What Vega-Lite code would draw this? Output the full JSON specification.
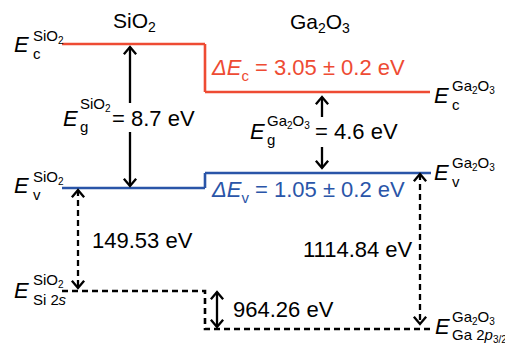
{
  "$schema": "https://vega.github.io/schema/vega-lite/v6.json",
  "width": 505,
  "height": 347,
  "padding": 0,
  "autosize": {"type": "none"},
  "background": "white",
  "config": {"view": {"stroke": null}, "text": {"font": "Liberation Sans", "align": "left", "baseline": "alphabetic"}},
  "datasets": {
    "bands": [
      {"band": "cb", "dash": "solid", "o": 1, "x": 62, "y": 44},
      {"band": "cb", "dash": "solid", "o": 2, "x": 205, "y": 44},
      {"band": "cb", "dash": "solid", "o": 3, "x": 205, "y": 92},
      {"band": "cb", "dash": "solid", "o": 4, "x": 430, "y": 92},
      {"band": "vb", "dash": "solid", "o": 1, "x": 62, "y": 188},
      {"band": "vb", "dash": "solid", "o": 2, "x": 205, "y": 188},
      {"band": "vb", "dash": "solid", "o": 3, "x": 205, "y": 173},
      {"band": "vb", "dash": "solid", "o": 4, "x": 431, "y": 173},
      {"band": "k", "dash": "dashed", "o": 1, "x": 62, "y": 291},
      {"band": "k", "dash": "dashed", "o": 2, "x": 205, "y": 291},
      {"band": "k", "dash": "dashed", "o": 3, "x": 205, "y": 329},
      {"band": "k", "dash": "dashed", "o": 4, "x": 433, "y": 329}
    ],
    "shafts": [
      {"x": 130, "y": 47, "y2": 103, "dash": "solid"},
      {"x": 130, "y": 132, "y2": 186, "dash": "solid"},
      {"x": 322, "y": 97, "y2": 117, "dash": "solid"},
      {"x": 322, "y": 147, "y2": 168, "dash": "solid"},
      {"x": 78, "y": 190, "y2": 288, "dash": "dashed"},
      {"x": 420, "y": 174, "y2": 324, "dash": "dashed"},
      {"x": 217, "y": 292, "y2": 327, "dash": "solid"}
    ],
    "heads": [
      {"x": 130, "y": 47, "dir": "up"}, {"x": 130, "y": 186, "dir": "down"},
      {"x": 322, "y": 97, "dir": "up"}, {"x": 322, "y": 168, "dir": "down"},
      {"x": 78, "y": 190, "dir": "up"}, {"x": 78, "y": 288, "dir": "down"},
      {"x": 420, "y": 174, "dir": "up"}, {"x": 420, "y": 324, "dir": "down"},
      {"x": 217, "y": 292, "dir": "up"}, {"x": 217, "y": 327, "dir": "down"}
    ],
    "labels": [
      {"t": "SiO", "x": 113, "y": 28, "role": "title", "band": "k", "it": false},
      {"t": "2", "x": 148, "y": 32, "role": "tsub", "band": "k", "it": false},
      {"t": "Ga", "x": 290, "y": 29, "role": "title", "band": "k", "it": false},
      {"t": "2", "x": 318, "y": 33, "role": "tsub", "band": "k", "it": false},
      {"t": "O", "x": 325.8, "y": 29, "role": "title", "band": "k", "it": false},
      {"t": "3", "x": 342, "y": 33, "role": "tsub", "band": "k", "it": false},

      {"t": "E", "x": 14, "y": 52, "role": "main", "band": "k", "it": true},
      {"t": "SiO", "x": 33, "y": 41, "role": "sup", "band": "k", "it": false},
      {"t": "2", "x": 58, "y": 44, "role": "supsub", "band": "k", "it": false},
      {"t": "c", "x": 33, "y": 59, "role": "sub", "band": "k", "it": false},

      {"t": "E", "x": 14, "y": 193, "role": "main", "band": "k", "it": true},
      {"t": "SiO", "x": 33, "y": 182, "role": "sup", "band": "k", "it": false},
      {"t": "2", "x": 58, "y": 185, "role": "supsub", "band": "k", "it": false},
      {"t": "v", "x": 33, "y": 200, "role": "sub", "band": "k", "it": false},

      {"t": "E", "x": 14, "y": 298, "role": "main", "band": "k", "it": true},
      {"t": "SiO", "x": 33, "y": 285, "role": "sup", "band": "k", "it": false},
      {"t": "2", "x": 58, "y": 288, "role": "supsub", "band": "k", "it": false},
      {"t": "Si 2", "x": 33, "y": 305, "role": "sub", "band": "k", "it": false},
      {"t": "s", "x": 58.5, "y": 305, "role": "sub", "band": "k", "it": true},

      {"t": "E", "x": 63, "y": 126, "role": "main", "band": "k", "it": true},
      {"t": "SiO", "x": 80, "y": 109, "role": "sup", "band": "k", "it": false},
      {"t": "2", "x": 105, "y": 112, "role": "supsub", "band": "k", "it": false},
      {"t": "g", "x": 80, "y": 132, "role": "sub", "band": "k", "it": false},
      {"t": "= 8.7 eV", "x": 112, "y": 126, "role": "main", "band": "k", "it": false},

      {"t": "E", "x": 250, "y": 139, "role": "main", "band": "k", "it": true},
      {"t": "Ga", "x": 267, "y": 126, "role": "sup", "band": "k", "it": false},
      {"t": "2", "x": 287, "y": 129, "role": "supsub", "band": "k", "it": false},
      {"t": "O", "x": 292.6, "y": 126, "role": "sup", "band": "k", "it": false},
      {"t": "3", "x": 304.3, "y": 129, "role": "supsub", "band": "k", "it": false},
      {"t": "g", "x": 267, "y": 145, "role": "sub", "band": "k", "it": false},
      {"t": "= 4.6 eV", "x": 315, "y": 139, "role": "main", "band": "k", "it": false},

      {"t": "E", "x": 434, "y": 103, "role": "main", "band": "k", "it": true},
      {"t": "Ga", "x": 452, "y": 91, "role": "sup", "band": "k", "it": false},
      {"t": "2", "x": 472, "y": 94, "role": "supsub", "band": "k", "it": false},
      {"t": "O", "x": 477.6, "y": 91, "role": "sup", "band": "k", "it": false},
      {"t": "3", "x": 489.3, "y": 94, "role": "supsub", "band": "k", "it": false},
      {"t": "c", "x": 452, "y": 110, "role": "sub", "band": "k", "it": false},

      {"t": "E", "x": 434, "y": 180, "role": "main", "band": "k", "it": true},
      {"t": "Ga", "x": 452, "y": 168, "role": "sup", "band": "k", "it": false},
      {"t": "2", "x": 472, "y": 171, "role": "supsub", "band": "k", "it": false},
      {"t": "O", "x": 477.6, "y": 168, "role": "sup", "band": "k", "it": false},
      {"t": "3", "x": 489.3, "y": 171, "role": "supsub", "band": "k", "it": false},
      {"t": "v", "x": 452, "y": 187, "role": "sub", "band": "k", "it": false},

      {"t": "E", "x": 435, "y": 334, "role": "main", "band": "k", "it": true},
      {"t": "Ga", "x": 452, "y": 322, "role": "sup", "band": "k", "it": false},
      {"t": "2", "x": 472, "y": 325, "role": "supsub", "band": "k", "it": false},
      {"t": "O", "x": 477.6, "y": 322, "role": "sup", "band": "k", "it": false},
      {"t": "3", "x": 489.3, "y": 325, "role": "supsub", "band": "k", "it": false},
      {"t": "Ga 2", "x": 452, "y": 340, "role": "sub", "band": "k", "it": false},
      {"t": "p", "x": 484.5, "y": 340, "role": "sub", "band": "k", "it": true},
      {"t": "3/2", "x": 493, "y": 343, "role": "supsub", "band": "k", "it": false},

      {"t": "Δ", "x": 212, "y": 75, "role": "main", "band": "cb", "it": true},
      {"t": "E", "x": 226.7, "y": 75, "role": "main", "band": "cb", "it": true},
      {"t": "c", "x": 241.5, "y": 81, "role": "sub", "band": "cb", "it": false},
      {"t": "= 3.05 ± 0.2 eV", "x": 255, "y": 75, "role": "main", "band": "cb", "it": false},

      {"t": "Δ", "x": 212, "y": 197, "role": "main", "band": "vb", "it": true},
      {"t": "E", "x": 226.7, "y": 197, "role": "main", "band": "vb", "it": true},
      {"t": "v", "x": 241.5, "y": 203, "role": "sub", "band": "vb", "it": false},
      {"t": "= 1.05 ± 0.2 eV", "x": 255, "y": 197, "role": "main", "band": "vb", "it": false},

      {"t": "149.53 eV", "x": 92, "y": 248, "role": "main", "band": "k", "it": false},
      {"t": "1114.84 eV", "x": 303, "y": 257, "role": "main", "band": "k", "it": false},
      {"t": "964.26 eV", "x": 233, "y": 317, "role": "main", "band": "k", "it": false}
    ]
  },
  "layer": [
    {
      "data": {"name": "bands"},
      "mark": {"type": "line", "strokeWidth": 2.6, "strokeJoin": "miter", "strokeCap": "butt"},
      "encoding": {
        "x": {"field": "x", "type": "quantitative", "scale": {"domain": [0, 505], "nice": false, "zero": false}, "axis": null},
        "y": {"field": "y", "type": "quantitative", "scale": {"domain": [0, 347], "nice": false, "zero": false, "reverse": true}, "axis": null},
        "detail": {"field": "band"},
        "order": {"field": "o", "type": "quantitative"},
        "color": {"field": "band", "type": "nominal", "scale": {"domain": ["cb", "vb", "k"], "range": ["#EE4B33", "#2A55A8", "#000000"]}, "legend": null},
        "strokeDash": {"field": "dash", "type": "nominal", "scale": {"domain": ["solid", "dashed"], "range": [[1, 0], [6, 4]]}, "legend": null}
      }
    },
    {
      "data": {"name": "shafts"},
      "mark": {"type": "rule", "strokeWidth": 2.3, "color": "black"},
      "encoding": {
        "x": {"field": "x", "type": "quantitative", "axis": null},
        "y": {"field": "y", "type": "quantitative", "axis": null},
        "y2": {"field": "y2"},
        "strokeDash": {"field": "dash", "type": "nominal", "legend": null}
      }
    },
    {
      "data": {"name": "heads"},
      "mark": {"type": "point", "filled": false, "size": 150, "strokeWidth": 2.3, "color": "black", "opacity": 1, "strokeJoin": "miter"},
      "encoding": {
        "x": {"field": "x", "type": "quantitative", "axis": null},
        "y": {"field": "y", "type": "quantitative", "axis": null},
        "shape": {"field": "dir", "type": "nominal", "scale": {"domain": ["up", "down"], "range": ["M-1,1.2L0,0L1,1.2", "M-1,-1.2L0,0L1,-1.2"]}, "legend": null}
      }
    },
    {
      "data": {"name": "labels"},
      "transform": [{"filter": "datum.role == 'main' && !datum.it"}],
      "mark": {"type": "text", "fontSize": 22},
      "encoding": {
        "x": {"field": "x", "type": "quantitative", "axis": null},
        "y": {"field": "y", "type": "quantitative", "axis": null},
        "text": {"field": "t"},
        "color": {"field": "band", "type": "nominal", "legend": null}
      }
    },
    {
      "data": {"name": "labels"},
      "transform": [{"filter": "datum.role == 'main' && datum.it"}],
      "mark": {"type": "text", "fontSize": 22, "fontStyle": "italic"},
      "encoding": {
        "x": {"field": "x", "type": "quantitative", "axis": null},
        "y": {"field": "y", "type": "quantitative", "axis": null},
        "text": {"field": "t"},
        "color": {"field": "band", "type": "nominal", "legend": null}
      }
    },
    {
      "data": {"name": "labels"},
      "transform": [{"filter": "datum.role == 'title'"}],
      "mark": {"type": "text", "fontSize": 21},
      "encoding": {
        "x": {"field": "x", "type": "quantitative", "axis": null},
        "y": {"field": "y", "type": "quantitative", "axis": null},
        "text": {"field": "t"},
        "color": {"field": "band", "type": "nominal", "legend": null}
      }
    },
    {
      "data": {"name": "labels"},
      "transform": [{"filter": "datum.role == 'tsub'"}],
      "mark": {"type": "text", "fontSize": 14},
      "encoding": {
        "x": {"field": "x", "type": "quantitative", "axis": null},
        "y": {"field": "y", "type": "quantitative", "axis": null},
        "text": {"field": "t"},
        "color": {"field": "band", "type": "nominal", "legend": null}
      }
    },
    {
      "data": {"name": "labels"},
      "transform": [{"filter": "(datum.role == 'sup' || datum.role == 'sub') && !datum.it"}],
      "mark": {"type": "text", "fontSize": 15},
      "encoding": {
        "x": {"field": "x", "type": "quantitative", "axis": null},
        "y": {"field": "y", "type": "quantitative", "axis": null},
        "text": {"field": "t"},
        "color": {"field": "band", "type": "nominal", "legend": null}
      }
    },
    {
      "data": {"name": "labels"},
      "transform": [{"filter": "datum.role == 'sub' && datum.it"}],
      "mark": {"type": "text", "fontSize": 15, "fontStyle": "italic"},
      "encoding": {
        "x": {"field": "x", "type": "quantitative", "axis": null},
        "y": {"field": "y", "type": "quantitative", "axis": null},
        "text": {"field": "t"},
        "color": {"field": "band", "type": "nominal", "legend": null}
      }
    },
    {
      "data": {"name": "labels"},
      "transform": [{"filter": "datum.role == 'supsub'"}],
      "mark": {"type": "text", "fontSize": 10},
      "encoding": {
        "x": {"field": "x", "type": "quantitative", "axis": null},
        "y": {"field": "y", "type": "quantitative", "axis": null},
        "text": {"field": "t"},
        "color": {"field": "band", "type": "nominal", "legend": null}
      }
    }
  ]
}
